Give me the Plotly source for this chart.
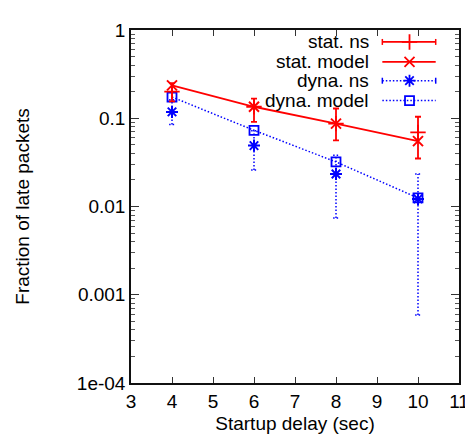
import plotly.graph_objects as go

# ---------------- data ----------------
x_delay = [4, 6, 8, 10]

stat_ns = [0.20, 0.135, 0.087, 0.069]
stat_ns_lo = [0.155, 0.091, 0.056, 0.035]
stat_ns_hi = [0.25, 0.167, 0.129, 0.104]

stat_model = [0.236, 0.135, 0.087, 0.055]

dyna_ns = [0.118, 0.049, 0.0234, 0.0122]
dyna_ns_lo = [0.085, 0.026, 0.0074, 0.00059]
dyna_ns_hi = [0.162, 0.072, 0.038, 0.0234]

dyna_model = [0.174, 0.073, 0.032, 0.0125]

y_tickvals = [1e-4, 1e-3, 1e-2, 1e-1, 1]
y_ticktext = ["1e-04", "0.001", "0.01", "0.1", "1"]
x_tickvals = [3, 4, 5, 6, 7, 8, 9, 10, 11]

legend_labels = ["stat. ns", "stat. model", "dyna. ns", "dyna. model"]

RED = "#ff0000"
BLUE = "#0000ff"
FONT = "Liberation Sans, Arial, Helvetica, sans-serif"
DOT = "1.5px,2px"

# ---------------- geometry (pixels) ----------------
W, H = 473, 435
ML, MR, MT, MB = 123, 12, 21, 59
PW = W - ML - MR
PH = H - MT - MB


def px_x(p):
    return (p - ML) / PW


def px_y(p):
    return 1 - (p - MT) / PH


fig = go.Figure()

# dyna. ns error bars (dotted) built from data
cap = 0.07
ex, ey = [], []
for xv, lo, hi in zip(x_delay, dyna_ns_lo, dyna_ns_hi):
    ex += [xv, xv, None, xv - cap, xv + cap, None, xv - cap, xv + cap, None]
    ey += [lo, hi, None, lo, lo, None, hi, hi, None]
fig.add_trace(go.Scatter(x=ex, y=ey, mode="lines",
                         line=dict(color=BLUE, width=1.5, dash=DOT),
                         showlegend=False, hoverinfo="skip"))

# dyna. model line + squares
fig.add_trace(go.Scatter(x=x_delay, y=dyna_model, mode="lines+markers",
                         line=dict(color=BLUE, width=1.5, dash=DOT),
                         marker=dict(symbol="square-open", size=9, color=BLUE,
                                     line=dict(width=1.8, color=BLUE)),
                         showlegend=False))

# dyna. ns markers
fig.add_trace(go.Scatter(x=x_delay, y=dyna_ns, mode="markers",
                         marker=dict(symbol="asterisk", size=10,
                                     line=dict(width=2, color=BLUE), color=BLUE),
                         showlegend=False))

# stat. ns with error bars
err_plus = [h - v for h, v in zip(stat_ns_hi, stat_ns)]
err_minus = [v - l for v, l in zip(stat_ns, stat_ns_lo)]
fig.add_trace(go.Scatter(x=x_delay, y=stat_ns, mode="markers",
                         marker=dict(symbol="cross-thin", size=11,
                                     line=dict(width=1.8, color=RED), color=RED),
                         error_y=dict(type="data", symmetric=False,
                                      array=err_plus, arrayminus=err_minus,
                                      color=RED, thickness=1.8, width=3),
                         showlegend=False))

# stat. model line + x
fig.add_trace(go.Scatter(x=x_delay, y=stat_model, mode="lines+markers",
                         line=dict(color=RED, width=1.8),
                         marker=dict(symbol="x-thin", size=10,
                                     line=dict(width=2, color=RED), color=RED),
                         showlegend=False))

# ---------------- custom gnuplot-style key ----------------
key_rows = [33, 53, 72, 92]
text_right = 370
s0, s1, sm = 382, 437, 410
styles = [
    dict(color=RED, dash="solid", sym="cross-thin", size=11, caps=True),
    dict(color=RED, dash="solid", sym="x-thin", size=10, caps=False),
    dict(color=BLUE, dash=DOT, sym="asterisk", size=10, caps=True),
    dict(color=BLUE, dash=DOT, sym="square-open", size=9, caps=False),
]
for lab, ry, st in zip(legend_labels, key_rows, styles):
    fig.add_annotation(x=px_x(text_right), y=px_y(ry), xref="paper", yref="paper",
                       text=lab, showarrow=False, xanchor="right", yanchor="middle",
                       font=dict(size=19, color="black", family=FONT))
    fig.add_shape(type="line", xref="paper", yref="paper",
                  x0=px_x(s0), x1=px_x(s1), y0=px_y(ry), y1=px_y(ry),
                  line=dict(color=st["color"], width=1.8 if st["dash"] == "solid" else 1.5,
                            dash=st["dash"]))
    if st["caps"]:
        for cx in (s0, s1):
            fig.add_shape(type="line", xref="paper", yref="paper",
                          x0=px_x(cx), x1=px_x(cx), y0=px_y(ry - 3), y1=px_y(ry + 3),
                          line=dict(color=st["color"], width=1.5))
    fig.add_trace(go.Scatter(x=[px_x(sm)], y=[px_y(ry)], xaxis="x2", yaxis="y2",
                             mode="markers", showlegend=False, hoverinfo="skip",
                             marker=dict(symbol=st["sym"], size=st["size"],
                                         color=st["color"],
                                         line=dict(width=1.8, color=st["color"]))))

fig.update_layout(
    width=W, height=H,
    margin=dict(l=ML, r=MR, t=MT, b=MB),
    paper_bgcolor="white", plot_bgcolor="white",
    font=dict(family=FONT, size=19, color="black"),
    showlegend=False,
    xaxis=dict(range=[3, 11], tickvals=x_tickvals, ticks="inside", ticklen=6,
               tickwidth=1, tickcolor="#333", showline=True, linecolor="#111",
               linewidth=1.5, mirror="allticks", showgrid=False, zeroline=False,
               title=dict(text="Startup delay (sec)", standoff=6,
                          font=dict(size=19)),
               tickfont=dict(size=19)),
    yaxis=dict(type="log", range=[-4, 0], tickvals=y_tickvals, ticktext=y_ticktext,
               ticks="inside", ticklen=8, tickwidth=1, tickcolor="#333",
               showline=True, linecolor="#111", linewidth=1.5, mirror="allticks",
               showgrid=False, zeroline=False,
               minor=dict(ticks="inside", ticklen=4, tickcolor="#555", dtick="D1",
                          showgrid=False),
               title=dict(text="Fraction of late packets", standoff=42,
                          font=dict(size=19)),
               tickfont=dict(size=19)),
    xaxis2=dict(overlaying="x", range=[0, 1], visible=False, anchor="y2"),
    yaxis2=dict(overlaying="y", range=[0, 1], visible=False, anchor="x2"),
)

fig.write_html("out.html")
